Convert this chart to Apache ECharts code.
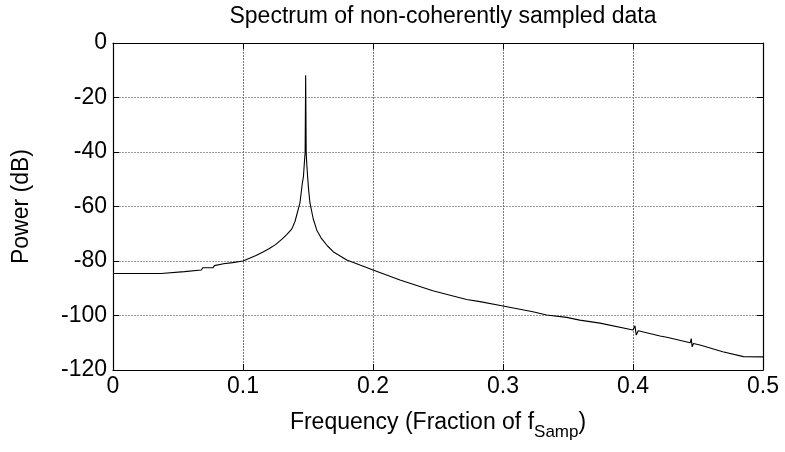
<!DOCTYPE html>
<html>
<head>
<meta charset="utf-8">
<script src="https://cdn.jsdelivr.net/npm/echarts@6/dist/echarts.min.js"></script>
<style>html,body{margin:0;padding:0;background:#fff}#c{width:785px;height:452px}</style>
</head>
<body>
<div id="c"></div>
<script>
var freq = [0, 0.02, 0.037, 0.038, 0.055, 0.056, 0.068, 0.069, 0.077, 0.078, 0.085, 0.092, 0.1, 0.105, 0.11, 0.115, 0.12, 0.125, 0.13, 0.1336, 0.1375, 0.14, 0.1438, 0.1455, 0.1465, 0.1472, 0.1478, 0.1482, 0.1486, 0.149, 0.1497, 0.1505, 0.1515, 0.154, 0.1567, 0.16, 0.165, 0.17, 0.1798, 0.19, 0.2, 0.2208, 0.246, 0.272, 0.2823, 0.3, 0.323, 0.3336, 0.349, 0.359, 0.3746, 0.4, 0.4015, 0.4025, 0.404, 0.4208, 0.426, 0.444, 0.4448, 0.4455, 0.4465, 0.4515, 0.469, 0.485, 0.5];
var power = [-84.6, -84.6, -84.6, -83.9, -83.9, -83.3, -83.3, -82.5, -82.5, -81.7, -81.0, -80.6, -80.0, -79.0, -78.0, -76.8, -75.5, -74.0, -72.0, -70.3, -68.3, -65.5, -58.7, -52, -49, -44, -40, -11.8, -40, -44, -49, -54, -58.7, -64.5, -68.6, -71.5, -74.5, -76.8, -79.6, -81.5, -83.3, -87, -90.9, -94.1, -94.9, -96.5, -98.6, -99.8, -100.7, -101.7, -102.8, -105.3, -103.8, -107.2, -105.6, -107.5, -108.0, -110.0, -108.5, -111.5, -110.3, -110.8, -113.3, -115.1, -115.2];
var xTicks = [0, 0.1, 0.2, 0.3, 0.4, 0.5];
var yTicks = [0, -20, -40, -60, -80, -100, -120];
var titleText = 'Spectrum of non-coherently sampled data';

var font = 'Liberation Sans, Arial, sans-serif';
var chart = echarts.init(document.getElementById('c'), null, {renderer: 'canvas'});
var data = freq.map(function (f, i) { return [f, power[i]]; });
var xGrid = {show: true, lineStyle: {color: '#7a7a7a', type: [2, 1], width: 1}};
var yGrid = {show: true, lineStyle: {color: '#9a9a9a', type: [2, 1], width: 1}};
var axLine = {show: true, onZero: false, lineStyle: {color: '#000', width: 1.2}};
var tick = {show: true, inside: true, length: 6, lineStyle: {color: '#000'}};
chart.setOption({
  animation: false,
  backgroundColor: '#fff',
  title: {
    text: titleText, left: 438, textAlign: 'center', top: 0,
    textStyle: {fontFamily: font, fontSize: 23, fontWeight: 'normal', color: '#000'}
  },
  grid: {left: 113, right: 22, top: 43, bottom: 82},
  xAxis: [{
    type: 'value', min: xTicks[0], max: xTicks[xTicks.length - 1], interval: 0.1,
    position: 'bottom',
    axisLine: axLine, axisTick: tick, splitLine: xGrid,
    axisLabel: {color: '#000', fontFamily: font, fontSize: 23, margin: 5,
      formatter: function (v) { return String(+v.toFixed(1)); }},
    name: '{a|Frequency (Fraction of f}{b|Samp}{a|)}',
    nameLocation: 'middle', nameGap: 41,
    nameTextStyle: {
      rich: {
        a: {fontFamily: font, fontSize: 23, color: '#000', lineHeight: 30, verticalAlign: 'top'},
        b: {fontFamily: font, fontSize: 17, color: '#000', lineHeight: 30, verticalAlign: 'top', padding: [13, 0, 0, 0]}
      }
    }
  }, {
    type: 'value', min: xTicks[0], max: xTicks[xTicks.length - 1], interval: 0.1,
    position: 'top',
    axisLine: axLine, axisTick: tick, splitLine: {show: false}, axisLabel: {show: false}
  }],
  yAxis: [{
    type: 'value', min: yTicks[yTicks.length - 1], max: yTicks[0], interval: 20,
    position: 'left',
    axisLine: axLine, axisTick: tick, splitLine: yGrid,
    axisLabel: {color: '#000', fontFamily: font, fontSize: 23, margin: 6},
    name: 'Power (dB)', nameLocation: 'middle', nameGap: 80, nameRotate: 90,
    nameTextStyle: {fontFamily: font, fontSize: 23, color: '#000'}
  }, {
    type: 'value', min: yTicks[yTicks.length - 1], max: yTicks[0], interval: 20,
    position: 'right',
    axisLine: axLine, axisTick: tick, splitLine: {show: false}, axisLabel: {show: false}
  }],
  series: [{
    type: 'line', data: data, xAxisIndex: 0, yAxisIndex: 0,
    showSymbol: false, symbol: 'none',
    lineStyle: {color: '#000', width: 1.1},
    z: 3
  }]
});
</script>
</body>
</html>
